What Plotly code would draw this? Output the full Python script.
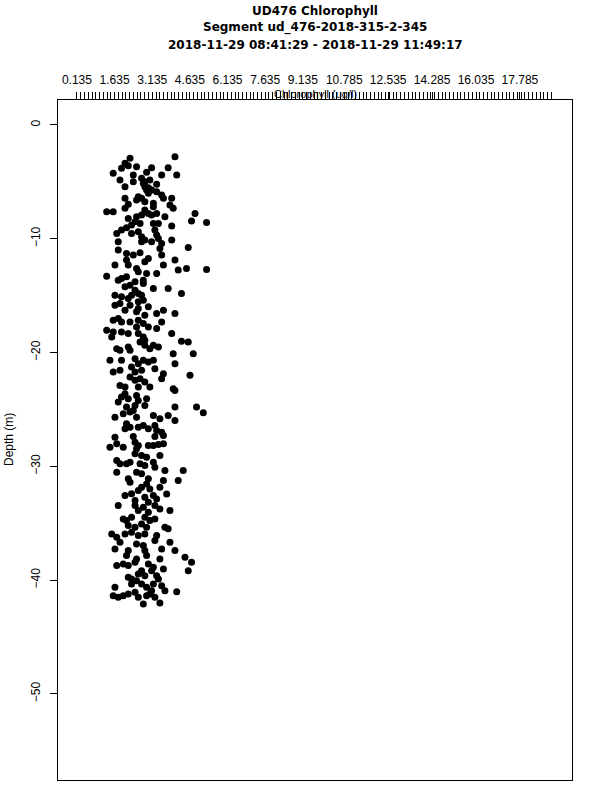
import numpy as np
import plotly.graph_objects as go

# ---- data (chlorophyll ug/l, depth m) ----
chl = [
 4.04,2.25,2.05,2.18,1.91,2.51,3.11,3.77,1.58,2.91,3.51,4.11,2.38,1.85,2.38,2.71,2.78,3.04,3.31,2.05,
 2.84,2.91,2.98,3.31,2.58,2.51,2.71,2.84,3.51,3.58,3.91,2.05,3.18,3.18,2.18,3.84,3.97,2.05,1.32,1.58,
 2.84,2.98,2.71,3.11,2.18,2.51,2.45,2.31,2.65,3.31,3.64,4.84,4.70,5.30,3.18,3.38,3.91,2.11,1.91,1.72,
 2.31,2.58,2.71,3.24,3.31,1.78,2.71,2.84,3.11,3.38,3.91,3.51,2.84,2.98,3.11,
 4.57,1.78,2.11,2.38,2.65,3.44,3.51,2.98,2.84,2.11,2.18,1.65,3.58,4.04,2.51,2.58,4.17,4.50,5.30,3.31,
 2.91,1.32,1.91,2.11,1.78,2.78,2.78,2.45,2.25,2.05,3.18,3.77,2.45,2.58,4.30,1.65,1.91,2.18,2.31,2.71,
 2.78,2.58,1.65,1.85,2.25,2.05,2.58,2.98,2.51,3.58,3.31,4.04,2.84,1.58,1.78,1.91,2.25,2.58,2.78,2.51,
 3.51,2.98,3.31,1.32,1.58,1.52,1.91,2.18,2.58,2.78,3.91,
 4.30,4.57,1.72,1.85,2.18,2.25,2.84,3.04,3.18,3.38,2.65,2.84,3.97,4.77,1.45,1.91,2.45,2.58,2.78,2.98,
 3.18,3.24,4.04,1.58,1.85,2.31,2.45,2.71,3.58,3.51,4.64,2.25,2.45,2.65,2.84,1.85,2.05,2.58,3.04,3.97,
 4.04,2.05,1.91,2.18,1.78,2.51,2.58,2.91,2.84,2.11,2.25,1.98,2.45,2.38,2.51,4.04,4.90,5.17,1.65,3.18,
 3.44,3.77,4.04,2.11,2.25,2.05,2.58,2.78,2.98,3.24,3.31,3.51,
 1.65,2.38,3.24,3.58,1.45,1.72,1.98,2.45,2.58,2.51,2.98,3.18,3.38,3.58,2.45,2.71,2.91,3.44,1.72,1.85,
 2.11,2.25,2.65,2.84,3.18,3.24,4.37,1.72,2.51,2.71,3.64,2.18,2.25,2.98,2.91,3.58,4.17,2.71,3.04,3.44,
 2.58,3.71,2.05,2.31,2.45,2.84,3.18,3.31,2.98,1.78,2.45,2.78,3.24,2.58,3.44,3.84,2.98,1.98,2.11,2.31,
 2.84,3.04,3.24,2.18,2.45,2.71,2.91,3.64,
 3.77,1.52,1.72,2.05,2.31,2.58,2.84,3.31,3.24,1.85,2.51,2.78,3.84,1.65,2.18,2.11,2.84,2.91,3.51,4.04,
 4.44,2.51,2.45,3.44,4.70,1.72,1.98,2.18,2.98,3.18,3.11,3.58,4.57,2.71,2.58,2.84,2.18,2.31,2.31,3.31,
 3.38,2.51,2.71,2.91,3.18,3.11,1.65,3.51,3.64,4.11,1.58,1.78,1.98,2.18,2.45,2.58,2.91,3.04,3.24,2.78,
 3.44,
]
depth = [
 -2.79,-2.93,-3.37,-3.58,-3.81,-3.67,-3.76,-3.76,-4.25,-4.17,-4.40,-4.40,-4.40,-4.84,-4.99,-4.69,-5.13,-4.84,-5.22,-5.43,
 -5.43,-5.72,-6.01,-5.87,-6.31,-6.60,-6.45,-6.75,-6.16,-6.45,-6.45,-6.45,-6.89,-7.19,-6.98,-7.04,-7.33,-7.33,-7.63,-7.63,
 -7.48,-7.78,-7.92,-7.92,-8.22,-8.07,-8.51,-8.80,-8.66,-7.78,-8.07,-7.78,-8.45,-8.57,-8.66,-8.66,-8.89,-9.04,-9.24,-9.54,
 -9.54,-9.39,-9.83,-9.24,-9.68,-10.27,-10.27,-10.12,-10.27,-9.98,-10.12,-10.42,-4.99,-5.52,-5.72,
 -10.77,-11.00,-11.29,-11.44,-11.24,-10.85,-11.44,-11.73,-12.03,-11.88,-12.32,-12.32,-12.32,-11.88,-12.61,-12.91,-12.76,-12.61,-12.70,-13.05,
 -13.05,-13.29,-13.49,-13.35,-13.64,-13.64,-13.93,-13.79,-14.08,-14.23,-14.37,-14.37,-14.52,-14.81,-14.81,-14.96,-15.11,-15.25,-14.96,-14.96,
 -15.40,-15.55,-15.84,-15.69,-15.84,-16.28,-16.14,-15.99,-16.43,-16.28,-16.58,-16.58,-16.72,-17.16,-17.02,-17.31,-17.31,-17.16,-17.46,-17.75,
 -17.31,-17.75,-17.90,-18.04,-18.19,-18.63,-18.19,-18.34,-18.34,-18.63,-18.34,
 -19.02,-19.08,-19.66,-19.81,-19.52,-19.81,-19.37,-19.66,-19.37,-19.52,-19.08,-18.93,-20.10,-20.10,-20.69,-20.69,-20.54,-20.98,-20.69,-20.84,
 -20.69,-21.42,-20.98,-21.72,-21.57,-21.28,-21.72,-21.57,-21.86,-22.30,-22.01,-22.16,-22.45,-22.30,-22.60,-22.89,-23.04,-23.04,-23.04,-23.18,
 -23.33,-23.62,-23.92,-24.06,-24.36,-23.77,-24.21,-24.06,-24.65,-24.80,-25.24,-25.39,-24.65,-25.09,-25.68,-24.80,-24.80,-25.30,-25.68,-25.53,
 -25.82,-25.53,-25.97,-26.27,-26.56,-26.71,-26.56,-26.41,-26.71,-26.41,-26.85,-27.00,
 -27.44,-27.38,-27.38,-27.29,-28.32,-28.02,-28.32,-27.88,-28.17,-28.46,-28.17,-28.17,-28.08,-28.02,-28.90,-29.05,-29.20,-29.05,-29.49,-29.78,
 -29.78,-29.64,-29.78,-29.93,-29.64,-30.08,-30.37,-30.52,-30.52,-30.66,-30.37,-31.10,-31.40,-31.10,-31.55,-31.25,-31.25,-31.84,-31.99,-31.84,
 -32.13,-32.43,-32.57,-32.42,-33.01,-32.72,-32.57,-32.87,-33.16,-33.45,-33.45,-33.60,-33.45,-33.89,-33.75,-33.89,-34.04,-34.63,-34.77,-34.48,
 -34.48,-34.77,-34.63,-35.21,-35.36,-35.07,-35.36,-35.36,
 -35.50,-35.94,-36.24,-35.94,-35.80,-36.09,-35.94,-36.09,-36.53,-36.68,-36.82,-36.97,-36.68,-37.26,-37.41,-37.85,-37.41,-37.85,-37.26,-37.41,
 -38.00,-38.14,-38.44,-38.14,-38.44,-38.73,-38.58,-38.73,-38.58,-38.88,-39.17,-39.02,-39.17,-39.17,-39.46,-39.61,-39.76,-39.90,-40.35,-39.61,
 -39.90,-40.05,-40.35,-40.64,-40.35,-40.93,-40.64,-40.49,-40.93,-41.02,-41.37,-41.52,-41.37,-41.22,-41.08,-41.52,-41.37,-41.22,-41.52,-42.11,
 -42.02,
]

x_labels = ["0.135","1.635","3.135","4.635","6.135","7.635","9.135",
            "10.785","12.535","14.285","16.035","17.785"]
x_label_vals = [float(s) for s in x_labels]
x_minor_vals = list(np.round(np.arange(0.135, 19.05, 0.15), 3))
y_ticks = [0, -10, -20, -30, -40, -50]

title_lines = ["UD476 Chlorophyll", "Segment ud_476-2018-315-2-345",
               "2018-11-29 08:41:29 - 2018-11-29 11:49:17"]

# ---- layout constants ----
W, H = 600, 800
L, R, T, B = 58, 28, 100, 20
ph = H - T - B
pw = W - L - R

def py(pix):
    return (H - B - pix) / ph

def px(pix):
    return (pix - L) / pw

tickvals = sorted(set(x_minor_vals) | set(x_label_vals))
ticktext = [x_labels[x_label_vals.index(v)] if v in x_label_vals else "" for v in tickvals]

fig = go.Figure()
fig.add_trace(go.Scatter(x=chl, y=depth, mode="markers",
                         marker=dict(color="black", size=7, line=dict(width=0)),
                         showlegend=False, hoverinfo="x+y"))

font = "Liberation Sans, Arial, sans-serif"
tfont = "DejaVu Sans, sans-serif"
fig.update_layout(
    width=W, height=H, margin=dict(l=L, r=R, t=T, b=B, autoexpand=False),
    paper_bgcolor="white", plot_bgcolor="white",
    font=dict(family=font, size=12, color="black"),
    xaxis=dict(side="top", range=[-0.62, 19.86], tickvals=tickvals, ticktext=ticktext,
               ticks="outside", ticklen=7, tickwidth=1, tickcolor="black",
               showgrid=False, zeroline=False, showline=True, linecolor="black",
               linewidth=1, mirror=True, tickangle=0, automargin=False,
               ticklabelstandoff=3,
               tickfont=dict(size=12, family=font)),
    yaxis=dict(range=[-57.57, 2.19], tickvals=y_ticks,
               ticktext=[str(v).replace("-", "\u2212") for v in y_ticks],
               ticks="outside", ticklen=7, tickwidth=1, tickcolor="black",
               showgrid=False, zeroline=False, showline=True, linecolor="black",
               linewidth=1, mirror=True, tickangle=-90, automargin=False,
               ticklabelstandoff=5,
               tickfont=dict(size=12, family=font)),
)

for txt, ypix in zip(title_lines, [11, 28, 45]):
    fig.add_annotation(text="<b>%s</b>" % txt, xref="paper", yref="paper",
                       x=px(315), y=py(ypix), xanchor="center", yanchor="middle",
                       showarrow=False, font=dict(size=12, family=tfont))

fig.add_annotation(text="Chlorophyll (ug/l)", xref="paper", yref="paper",
                   x=px(315), y=py(94), xanchor="center", yanchor="middle",
                   showarrow=False, font=dict(size=11, family=font))
fig.add_annotation(text="Depth (m)", xref="paper", yref="paper",
                   x=px(9), y=py(440), xanchor="center", yanchor="middle",
                   textangle=-90, showarrow=False, font=dict(size=12, family=font))

fig.write_html("out.html", config={"displayModeBar": False},
               post_script="document.body.style.margin='0';document.body.style.overflow='hidden';")
